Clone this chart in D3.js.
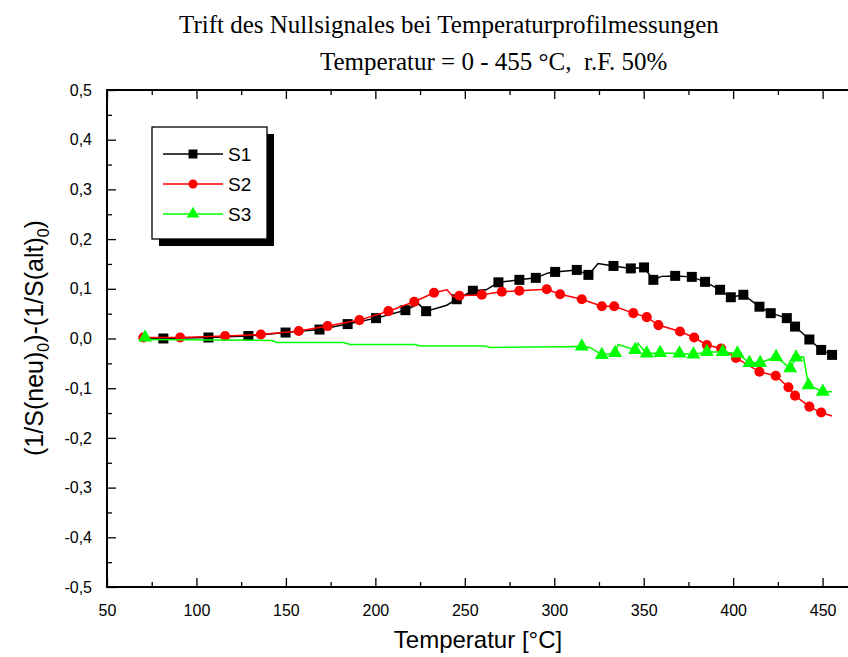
<!DOCTYPE html>
<html><head><meta charset="utf-8">
<script src="https://cdn.jsdelivr.net/npm/d3@7"></script>
<style>body{margin:0;background:#fff}svg{display:block}</style>
</head><body>
<svg id="c" width="848" height="657"></svg>
<script>
const titleLines = ["Trift des Nullsignales bei Temperaturprofilmessungen", "Temperatur = 0 - 455 °C,  r.F. 50%"];
const xTicks = [50,100,150,200,250,300,350,400,450];
const xMinor = [75,125,175,225,275,325,375,425];
const yTicks = [-0.5,-0.4,-0.3,-0.2,-0.1,0,0.1,0.2,0.3,0.4,0.5];
const yMinor = [-0.45,-0.35,-0.25,-0.15,-0.05,0.05,0.15,0.25,0.35,0.45];
const seriesNames = ["S1","S2","S3"];

const s1Line = [[70,0.001],[81.5,0.000],[106.7,0.002],[129,0.005],[149.8,0.012],[168.8,0.018],[184.5,0.029],[200.4,0.041],[216.8,0.057],[224,0.070],[228.4,0.055],[234.3,0.061],[239.9,0.067],[245.5,0.079],[254.5,0.096],[262,0.098],[268.8,0.113],[280.5,0.118],[289.7,0.122],[296.7,0.132],[300.5,0.134],[312.6,0.138],[319.1,0.128],[324.5,0.151],[333.1,0.146],[342.8,0.141],[350.2,0.143],[355.4,0.118],[360,0.125],[367.6,0.126],[376.9,0.124],[384.3,0.114],[392.7,0.098],[398.7,0.083],[405.7,0.088],[414.7,0.064],[421,0.051],[430,0.041],[434.6,0.024],[442.6,-0.002],[449.2,-0.023],[455.3,-0.033]];
const s1Marks = [[81.5,0.000],[106.7,0.002],[129,0.005],[149.8,0.012],[168.8,0.018],[184.5,0.029],[200.4,0.041],[216.8,0.057],[228.4,0.055],[245.5,0.079],[254.5,0.096],[268.8,0.113],[280.5,0.118],[289.7,0.122],[300.5,0.134],[312.6,0.138],[319.1,0.128],[333.1,0.146],[342.8,0.141],[350.2,0.143],[355.4,0.118],[367.6,0.126],[376.9,0.124],[384.3,0.114],[392.7,0.098],[398.7,0.083],[405.7,0.088],[414.7,0.064],[421,0.051],[430,0.041],[434.6,0.024],[442.6,-0.002],[449.2,-0.023],[455.3,-0.033]];

const s2Line = [[70.3,0.002],[90.9,0.002],[116,0.005],[136,0.008],[157.2,0.015],[173.3,0.025],[191.1,0.037],[207.3,0.055],[221.7,0.074],[232.8,0.092],[240,0.098],[243.5,0.084],[247,0.086],[259.5,0.088],[270.7,0.094],[280.5,0.096],[295.8,0.099],[303.3,0.089],[315.4,0.079],[326.6,0.065],[333.5,0.065],[344.2,0.051],[351.7,0.043],[358.2,0.027],[370.3,0.014],[378.2,0.002],[385.3,-0.013],[393.3,-0.020],[401.6,-0.039],[414.7,-0.067],[423.8,-0.075],[430.9,-0.098],[434.6,-0.115],[442.6,-0.137],[449.2,-0.149],[455.3,-0.156]];
const s2Marks = [[70.3,0.002],[90.9,0.002],[116,0.005],[136,0.008],[157.2,0.015],[173.3,0.025],[191.1,0.037],[207.3,0.055],[221.7,0.074],[232.8,0.092],[247,0.086],[259.5,0.088],[270.7,0.094],[280.5,0.096],[295.8,0.099],[303.3,0.089],[315.4,0.079],[326.6,0.065],[333.5,0.065],[344.2,0.051],[351.7,0.043],[358.2,0.027],[370.3,0.014],[378.2,0.002],[385.3,-0.013],[393.3,-0.020],[401.6,-0.039],[414.7,-0.067],[423.8,-0.075],[430.9,-0.098],[434.6,-0.115],[442.6,-0.137],[449.2,-0.149]];

const s3Line = [[69.5,-0.002],[142.1,-0.004],[144.9,-0.008],[182,-0.008],[185.9,-0.012],[222.2,-0.012],[225,-0.015],[261.3,-0.015],[264.1,-0.018],[315.4,-0.016],[320,-0.018],[326.6,-0.033],[334,-0.029],[335.7,-0.012],[345.2,-0.023],[346.7,-0.010],[351.7,-0.030],[359.2,-0.029],[370,-0.030],[377.8,-0.032],[385.3,-0.027],[394.2,-0.027],[402.4,-0.030],[409.1,-0.049],[415.1,-0.049],[424,-0.037],[431.9,-0.060],[435.2,-0.038],[439.3,-0.037],[442.1,-0.094],[450.1,-0.107],[455.3,-0.107]];
const s3Marks = [[71.3,0.002],[315.4,-0.016],[326.6,-0.033],[334,-0.029],[345.2,-0.023],[351.7,-0.030],[359.2,-0.029],[370,-0.030],[377.8,-0.032],[385.3,-0.027],[394.2,-0.027],[402.4,-0.030],[409.1,-0.049],[415.1,-0.049],[424,-0.037],[431.9,-0.060],[435.2,-0.038],[442.1,-0.094],[450.1,-0.107]];

const colors = ["#000000","#ff0000","#00ff00"];
const symbols = [d3.symbolSquare, d3.symbolCircle, d3.symbolTriangle];
const symSizes = [100, 80, 85];

const svg = d3.select("#c");
const L = 107, T = 90, B = 587;
const x = d3.scaleLinear().domain([50,465]).range([L, L + 415*1.789]);
const y = d3.scaleLinear().domain([-0.5,0.5]).range([B, T]);
const R = x(465);
const SANS = "'Liberation Sans',Arial,sans-serif";
const SERIF = "'Liberation Serif','Times New Roman',serif";

// title
svg.append("text").attr("x",179).attr("y",33)
  .style("font-family",SERIF).style("font-size","25px").text(titleLines[0]);
svg.append("text").attr("x",320).attr("y",70)
  .style("font-family",SERIF).style("font-size","25px").style("white-space","pre").text(titleLines[1]);

const fmtY = v => (Math.abs(v)<1e-9?0:v).toFixed(1).replace(".",",");
const axStyle = g => { g.select(".domain").remove(); g.selectAll("line").attr("stroke","#000").attr("stroke-width",1.3);
  g.selectAll("text").style("font-family",SANS).style("font-size","16px").attr("fill","#000"); };

svg.append("g").attr("transform",`translate(0,${B})`)
  .call(d3.axisBottom(x).tickValues(xTicks).tickSize(-9).tickPadding(18).tickFormat(d3.format("d"))).call(axStyle);
svg.append("g").attr("transform",`translate(0,${B})`)
  .call(d3.axisBottom(x).tickValues(xMinor).tickSize(-5).tickFormat("")).call(axStyle);
svg.append("g").attr("transform",`translate(0,${T})`)
  .call(d3.axisTop(x).tickValues(xTicks).tickSize(-9).tickFormat("")).call(axStyle);
svg.append("g").attr("transform",`translate(0,${T})`)
  .call(d3.axisTop(x).tickValues(xMinor).tickSize(-5).tickFormat("")).call(axStyle);
svg.append("g").attr("transform",`translate(${L},0)`)
  .call(d3.axisLeft(y).tickValues(yTicks).tickSize(-9).tickPadding(15).tickFormat(fmtY)).call(axStyle);
svg.append("g").attr("transform",`translate(${L},0)`)
  .call(d3.axisLeft(y).tickValues(yMinor).tickSize(-5).tickFormat("")).call(axStyle);

svg.append("rect").attr("x",L).attr("y",T).attr("width",R-L).attr("height",B-T)
  .attr("fill","none").attr("stroke","#000").attr("stroke-width",2);

// axis titles
svg.append("text").attr("x",478).attr("y",648).attr("text-anchor","middle")
  .style("font-family",SANS).style("font-size","24px").text("Temperatur [°C]");
const yt = svg.append("text").attr("transform","translate(43,338) rotate(-90)").attr("text-anchor","middle")
  .style("font-family",SANS).style("font-size","25px");
yt.append("tspan").text("(1/S(neu)");
yt.append("tspan").attr("dy",6).style("font-size","16px").text("0");
yt.append("tspan").attr("dy",-6).text(")-(1/S(alt)");
yt.append("tspan").attr("dy",6).style("font-size","16px").text("0");
yt.append("tspan").attr("dy",-6).text(")");

// series
const lines = [s1Line, s2Line, s3Line];
const marks = [s1Marks, s2Marks, s3Marks];
const lineGen = d3.line().x(d=>x(d[0])).y(d=>y(d[1]));
lines.forEach((ld,i) => {
  svg.append("path").datum(ld).attr("d",lineGen).attr("fill","none").attr("stroke",colors[i]).attr("stroke-width",1.5);
  svg.append("g").selectAll("path").data(marks[i]).join("path")
    .attr("d", d3.symbol().type(symbols[i]).size(symSizes[i]))
    .attr("transform", d=>`translate(${x(d[0])},${y(d[1])})`).attr("fill",colors[i]);
});

// legend
const lg = svg.append("g");
lg.append("rect").attr("x",159).attr("y",134).attr("width",115).attr("height",112).attr("fill","#000");
lg.append("rect").attr("x",152).attr("y",127).attr("width",115).attr("height",112).attr("fill","#fff").attr("stroke","#000").attr("stroke-width",1.3);
seriesNames.forEach((n,i) => {
  const yy = 154 + i*30;
  lg.append("line").attr("x1",163).attr("x2",223).attr("y1",yy).attr("y2",yy).attr("stroke",colors[i]).attr("stroke-width",1.3);
  lg.append("path").attr("d", d3.symbol().type(symbols[i]).size(symSizes[i]*0.8)()).attr("transform",`translate(193,${yy})`).attr("fill",colors[i]);
  lg.append("text").attr("x",228).attr("y",yy+7).style("font-family",SANS).style("font-size","19px").text(n);
});
</script>
</body></html>
